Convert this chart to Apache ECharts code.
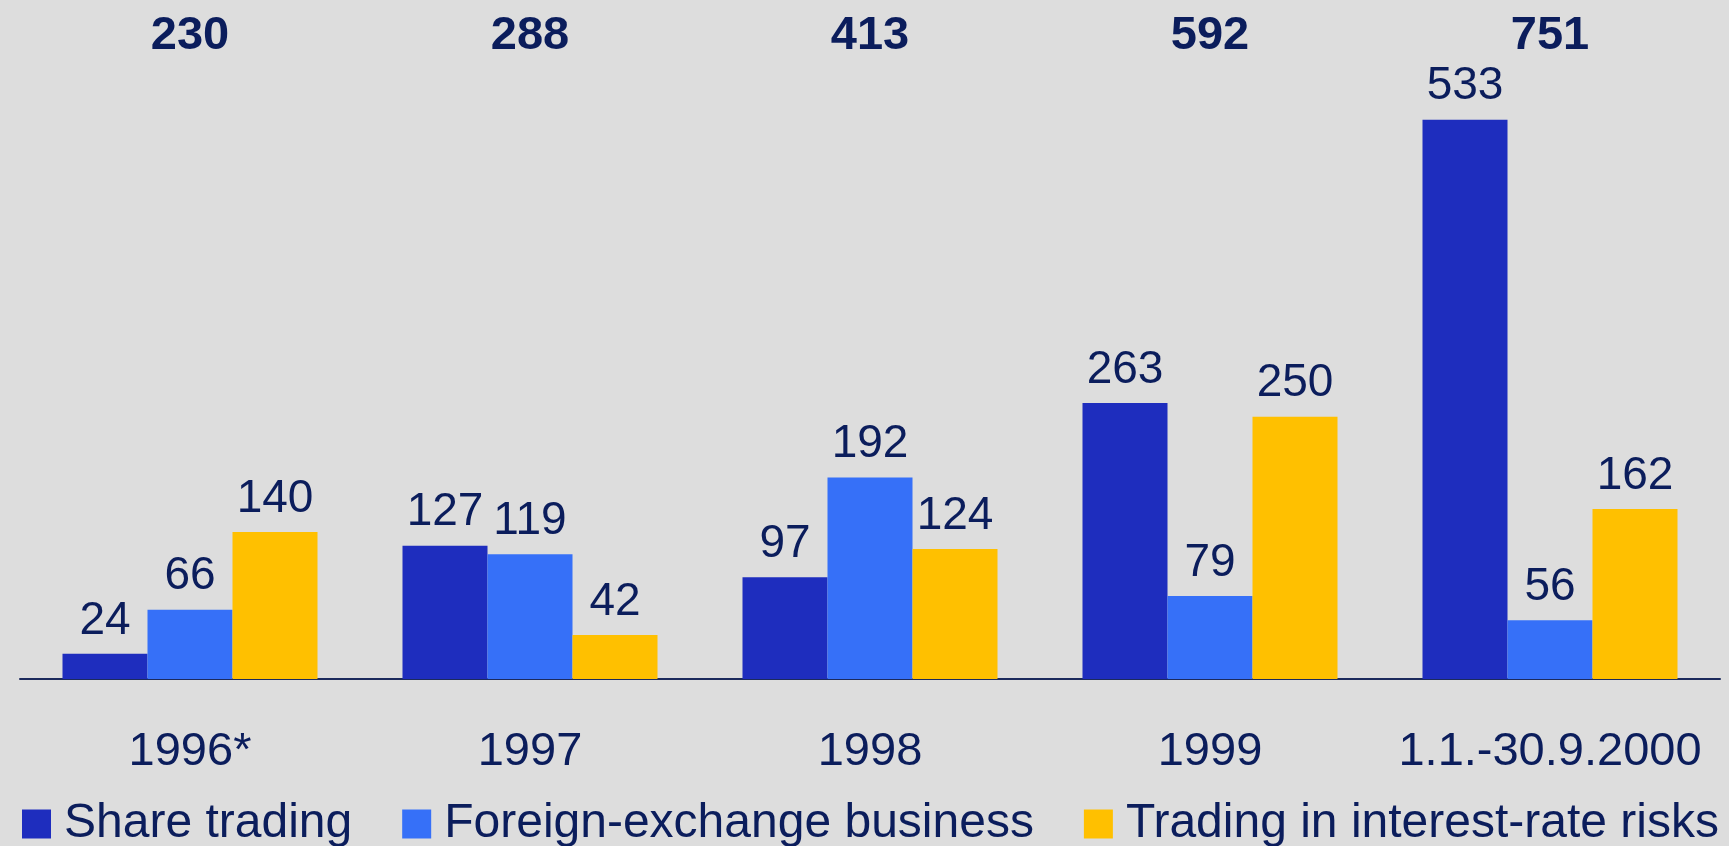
<!DOCTYPE html>
<html>
<head>
<meta charset="utf-8">
<script src="https://cdn.jsdelivr.net/npm/echarts@6/dist/echarts.min.js"></script>
<style>
html,body{margin:0;padding:0;background:#dddddd;}
#chart{width:1729px;height:846px;}
</style>
</head>
<body>
<div id="chart"></div>
<script>
const categories = ['1996*', '1997', '1998', '1999', '1.1.-30.9.2000'];
const totals = [230, 288, 413, 592, 751];
const shareTrading = [24, 127, 97, 263, 533];
const foreignExchange = [66, 119, 192, 79, 56];
const interestRate = [140, 42, 124, 250, 162];
const seriesNames = ['Share trading', 'Foreign-exchange business', 'Trading in interest-rate risks'];

const textColor = '#0b1d5c';
const font = 'Liberation Sans, Arial, sans-serif';

const chart = echarts.init(document.getElementById('chart'));

function barSeries(name, data, color) {
  return {
    name: name,
    type: 'bar',
    data: data,
    barWidth: '25%',
    barGap: '0%',
    itemStyle: { color: color },
    label: {
      show: true,
      position: 'top',
      distance: 10,
      color: textColor,
      fontFamily: font,
      fontSize: 46
    }
  };
}

chart.setOption({
  backgroundColor: '#dddddd',
  animation: false,
  grid: { left: 20, right: 9, top: 60, bottom: 167 },
  legend: {
    left: 17,
    top: 795,
    itemWidth: 29,
    itemHeight: 29,
    itemGap: 50,
    icon: 'rect',
    textStyle: { color: textColor, fontFamily: font, fontSize: 48, padding: [0, 0, 0, 8] },
    data: seriesNames
  },
  xAxis: [
    {
      type: 'category',
      data: categories,
      axisLine: { lineStyle: { color: '#1c2a5c', width: 2 } },
      axisTick: { show: false },
      axisLabel: { color: textColor, fontFamily: font, fontSize: 47, margin: 50, interval: 0, hideOverlap: false }
    },
    {
      type: 'category',
      position: 'top',
      data: totals.map(String),
      axisLine: { show: false },
      axisTick: { show: false },
      axisLabel: { color: textColor, fontFamily: font, fontSize: 47, fontWeight: 'bold', margin: 0, interval: 0, hideOverlap: false }
    }
  ],
  yAxis: {
    type: 'value',
    min: 0,
    max: 590,
    show: false,
    splitLine: { show: false }
  },
  series: [
    barSeries(seriesNames[0], shareTrading, '#1e2dbe'),
    barSeries(seriesNames[1], foreignExchange, '#3670f8'),
    barSeries(seriesNames[2], interestRate, '#ffc000')
  ]
});
</script>
</body>
</html>
